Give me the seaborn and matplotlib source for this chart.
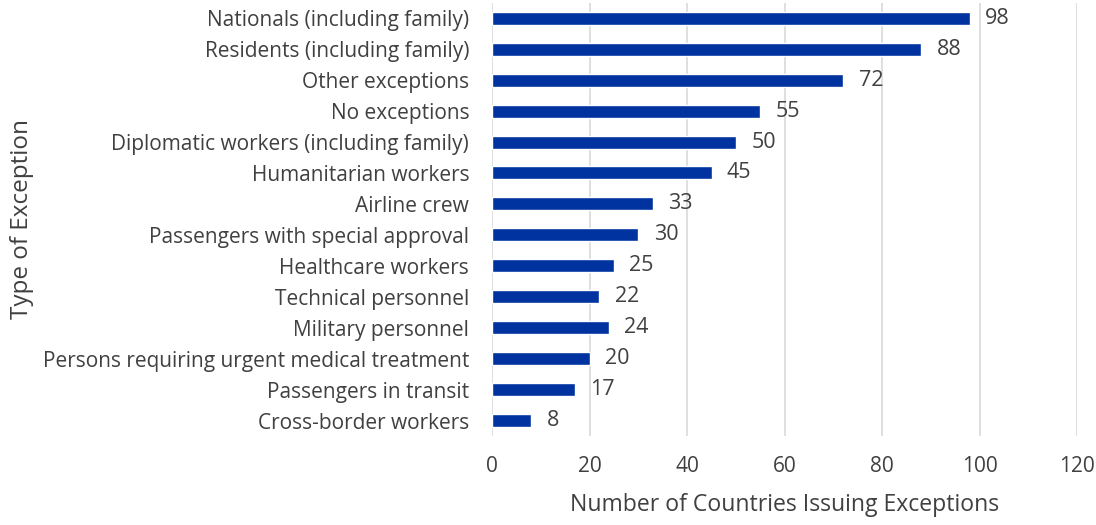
import matplotlib
matplotlib.use("Agg")
import matplotlib.pyplot as plt
import seaborn as sns
import pandas as pd

categories = [
    "Nationals (including family)",
    "Residents (including family)",
    "Other exceptions",
    "No exceptions",
    "Diplomatic workers (including family)",
    "Humanitarian workers",
    "Airline crew",
    "Passengers with special approval",
    "Healthcare workers",
    "Technical personnel",
    "Military personnel",
    "Persons requiring urgent medical treatment",
    "Passengers in transit",
    "Cross-border workers",
]
counts = [98, 88, 72, 55, 50, 45, 33, 30, 25, 22, 24, 20, 17, 8]
x_ticks = [0, 20, 40, 60, 80, 100, 120]

df = pd.DataFrame({"category": categories, "count": counts})

sns.set_style("white")
plt.rcParams["font.family"] = ["Open Sans", "DejaVu Sans"]
text_color = "#404040"
bar_color = "#0033A0"

fig = plt.figure(figsize=(10.96, 5.25), dpi=100)
ax = fig.add_axes([0.449, 0.169, 0.534, 0.826])

sns.barplot(data=df, x="count", y="category", orient="h", color=bar_color,
            width=0.42, saturation=1, ax=ax, order=categories)

for container in ax.containers:
    ax.bar_label(container, labels=[str(v) for v in counts], padding=11,
                 fontsize=15.5, color=text_color)

ax.set_xlim(0, 120)
ax.set_xticks(x_ticks)
ax.set_xticklabels([str(t) for t in x_ticks])
ax.xaxis.grid(True, color="#d9d9d9", linewidth=1.2)
ax.set_axisbelow(True)
for s in ax.spines.values():
    s.set_visible(False)
ax.tick_params(axis="both", length=0, labelsize=15, labelcolor=text_color)
ax.tick_params(axis="x", pad=14)
ax.tick_params(axis="y", pad=16.5)
ax.set_xlabel("Number of Countries Issuing Exceptions", fontsize=16.6,
              color=text_color, labelpad=12)
ax.set_ylabel("Type of Exception", fontsize=17.5, color=text_color, labelpad=6.5)

fig.savefig("out.png", dpi=100)
